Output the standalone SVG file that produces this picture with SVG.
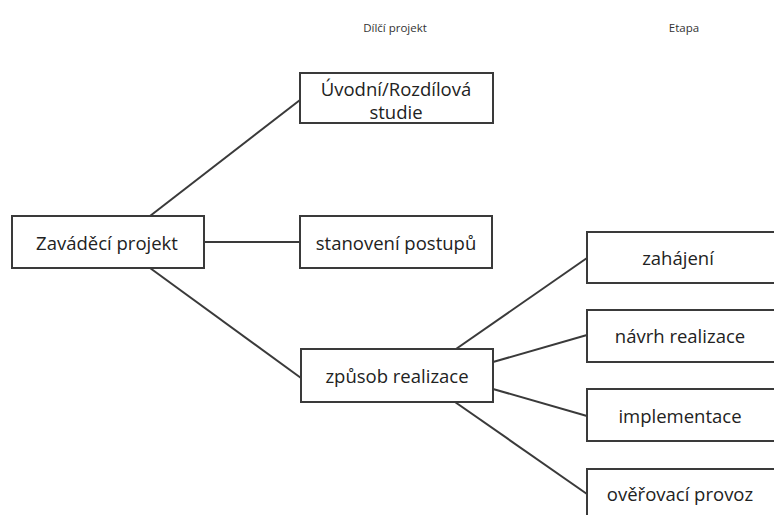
<svg xmlns="http://www.w3.org/2000/svg" width="774" height="515" viewBox="0 0 774 515">
<style>
.box{fill:#fff;stroke:#3a3a3a;stroke-width:2}
.t{font-family:"Open Sans","Noto Sans",sans-serif;font-size:18.5px;fill:#222;text-anchor:middle;dominant-baseline:central}
.h{font-family:"Open Sans","Noto Sans",sans-serif;font-size:11.5px;fill:#333;text-anchor:middle;dominant-baseline:central}
.c{stroke:#3a3a3a;stroke-width:2;fill:none}
</style>
<rect width="774" height="515" fill="#fff"/>
<text class="h" x="395" y="27">Dílčí projekt</text>
<text class="h" x="684" y="27">Etapa</text>
<g id="connectors">
<line class="c" x1="150" y1="216" x2="300" y2="100"/>
<line class="c" x1="204" y1="242" x2="300" y2="242"/>
<line class="c" x1="150" y1="268" x2="301" y2="378"/>
<line class="c" x1="456" y1="349" x2="587" y2="258"/>
<line class="c" x1="493" y1="362" x2="587" y2="335"/>
<line class="c" x1="493" y1="389" x2="587" y2="416"/>
<line class="c" x1="455" y1="402" x2="587" y2="494"/>
</g>
<g id="n_uvodni"><rect class="box" x="300" y="73" width="193" height="50"/><text class="t" x="396" y="88">Úvodní/Rozdílová</text><text class="t" x="396" y="111">studie</text></g>
<g id="n_zavadeci"><rect class="box" x="12" y="216" width="192" height="52"/><text class="t" x="107" y="242">Zaváděcí projekt</text></g>
<g id="n_stanoveni"><rect class="box" x="300" y="216" width="192" height="52"/><text class="t" x="396" y="242">stanovení postupů</text></g>
<g id="n_zpusob"><rect class="box" x="301" y="349" width="192" height="53"/><text class="t" x="397" y="375">způsob realizace</text></g>
<g id="n_zahajeni"><rect class="box" x="587" y="232" width="200" height="51"/><text class="t" x="678" y="257">zahájení</text></g>
<g id="n_navrh"><rect class="box" x="587" y="310" width="200" height="52"/><text class="t" x="680" y="335">návrh realizace</text></g>
<g id="n_implementace"><rect class="box" x="587" y="389" width="200" height="52"/><text class="t" x="680" y="415">implementace</text></g>
<g id="n_overovaci"><rect class="box" x="587" y="469" width="200" height="60"/><text class="t" x="680" y="493">ověřovací provoz</text></g>
</svg>
